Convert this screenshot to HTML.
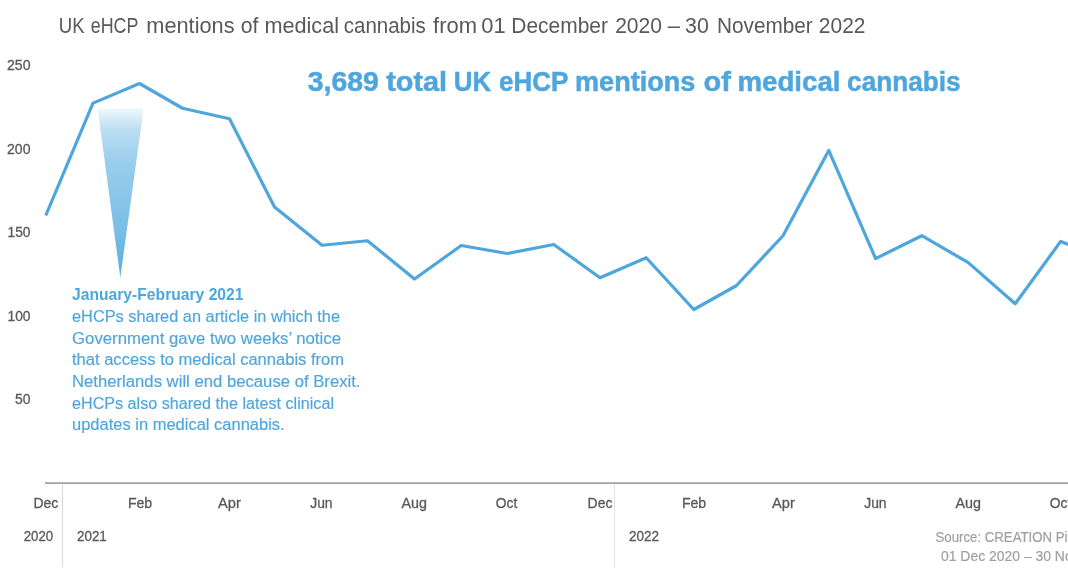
<!DOCTYPE html>
<html><head><meta charset="utf-8">
<style>
html,body{margin:0;padding:0;background:#fff;width:1068px;height:580px;overflow:hidden}
svg{display:block;will-change:transform}
text{font-family:"Liberation Sans",sans-serif}
.ax{fill:#595959;font-size:14.5px;stroke:#595959;stroke-width:0.3px}
.tt text{fill:#595959}
.hd text{fill:#4ea6dc;stroke:#4ea6dc;stroke-width:0.5px}
.cl{fill:#4ea6dc;font-size:15.6px;stroke:#4ea6dc;stroke-width:0.15px}
</style></head>
<body>
<svg width="1068" height="580" viewBox="0 0 1068 580">
<defs>
<linearGradient id="tg" x1="0" y1="0" x2="0" y2="1">
<stop offset="0" stop-color="#5aaee0" stop-opacity="0.1"/>
<stop offset="0.04" stop-color="#5aaee0" stop-opacity="0.2"/>
<stop offset="0.12" stop-color="#5aaee0" stop-opacity="0.4"/>
<stop offset="0.3" stop-color="#5aaee0" stop-opacity="0.6"/>
<stop offset="0.7" stop-color="#5aaee0" stop-opacity="0.8"/>
<stop offset="1" stop-color="#5aaee0" stop-opacity="1"/>
</linearGradient>
</defs>
<rect width="1068" height="580" fill="#fff"/>

<g class="tt">
<text x="58.76" y="33.00" font-size="21.50" textLength="25.84" lengthAdjust="spacingAndGlyphs">UK</text>
<text x="90.74" y="33.00" font-size="21.50" textLength="47.60" lengthAdjust="spacingAndGlyphs">eHCP</text>
<text x="146.25" y="33.00" font-size="21.50" textLength="88.33" lengthAdjust="spacingAndGlyphs">mentions</text>
<text x="240.71" y="33.00" font-size="21.50" textLength="17.66" lengthAdjust="spacingAndGlyphs">of</text>
<text x="264.46" y="33.00" font-size="21.50" textLength="74.59" lengthAdjust="spacingAndGlyphs">medical</text>
<text x="343.73" y="33.00" font-size="21.50" textLength="82.11" lengthAdjust="spacingAndGlyphs">cannabis</text>
<text x="433.09" y="33.00" font-size="21.50" textLength="43.96" lengthAdjust="spacingAndGlyphs">from</text>
<text x="481.24" y="33.00" font-size="21.50" textLength="24.43" lengthAdjust="spacingAndGlyphs">01</text>
<text x="511.28" y="33.00" font-size="21.50" textLength="96.67" lengthAdjust="spacingAndGlyphs">December</text>
<text x="615.14" y="33.00" font-size="21.50" textLength="46.88" lengthAdjust="spacingAndGlyphs">2020</text>
<text x="667.70" y="33.00" font-size="21.50" textLength="12.21" lengthAdjust="spacingAndGlyphs">–</text>
<text x="685.09" y="33.00" font-size="21.50" textLength="23.75" lengthAdjust="spacingAndGlyphs">30</text>
<text x="717.00" y="33.00" font-size="21.50" textLength="95.75" lengthAdjust="spacingAndGlyphs">November</text>
<text x="818.85" y="33.00" font-size="21.50" textLength="46.61" lengthAdjust="spacingAndGlyphs">2022</text>
</g>
<g class="hd">
<text x="307.75" y="91.20" font-size="27.60" font-weight="bold" textLength="71.00" lengthAdjust="spacingAndGlyphs">3,689</text>
<text x="386.15" y="91.20" font-size="27.60" font-weight="bold" textLength="61.00" lengthAdjust="spacingAndGlyphs">total</text>
<text x="453.85" y="91.20" font-size="27.60" font-weight="bold" textLength="37.40" lengthAdjust="spacingAndGlyphs">UK</text>
<text x="498.99" y="91.20" font-size="27.60" font-weight="bold" textLength="69.30" lengthAdjust="spacingAndGlyphs">eHCP</text>
<text x="575.01" y="91.20" font-size="27.60" font-weight="bold" textLength="120.40" lengthAdjust="spacingAndGlyphs">mentions</text>
<text x="703.47" y="91.20" font-size="27.60" font-weight="bold" textLength="27.38" lengthAdjust="spacingAndGlyphs">of</text>
<text x="737.48" y="91.20" font-size="27.60" font-weight="bold" textLength="102.98" lengthAdjust="spacingAndGlyphs">medical</text>
<text x="847.08" y="91.20" font-size="27.60" font-weight="bold" textLength="113.50" lengthAdjust="spacingAndGlyphs">cannabis</text>
</g>


<!-- y axis labels -->
<text class="ax" x="7" y="69.8" font-size="14.8" textLength="23.5" lengthAdjust="spacingAndGlyphs">250</text>
<text class="ax" x="7" y="153.5" font-size="14.8" textLength="23.5" lengthAdjust="spacingAndGlyphs">200</text>
<text class="ax" x="7.5" y="236.8" font-size="14.8" textLength="23" lengthAdjust="spacingAndGlyphs">150</text>
<text class="ax" x="7.5" y="320.5" font-size="14.8" textLength="23" lengthAdjust="spacingAndGlyphs">100</text>
<text class="ax" x="15" y="404" font-size="14.8" textLength="15.5" lengthAdjust="spacingAndGlyphs">50</text>

<!-- triangle callout -->
<polygon points="97.7,108.7 143.6,108.7 120.3,277.4" fill="url(#tg)"/>

<!-- data line -->
<polyline fill="none" stroke="#4ea6dc" stroke-width="3.2" stroke-linejoin="round" points="45.75,215.5 93,103.1 139.5,83.5 182.5,108.25 229.5,118.75 274.5,207 322,245.25 367.5,240.75 414.5,279 461.25,245.5 507.25,253.5 553.75,244.5 600,277.7 646.25,257.75 693.75,309.5 736.25,285.75 783,235.75 828.75,150.4 875.6,258.6 921.8,235.7 968.3,262.6 1015.2,303.8 1060.7,241.4 1107,260"/>

<!-- callout text -->
<text x="72" y="300.3" fill="#4ea6dc" font-size="16.1" font-weight="bold" textLength="171.5" lengthAdjust="spacingAndGlyphs">January-February 2021</text>
<text class="cl" x="72" y="321.8" textLength="268" lengthAdjust="spacingAndGlyphs">eHCPs shared an article in which the</text>
<text class="cl" x="72" y="343.5" textLength="269" lengthAdjust="spacingAndGlyphs">Government gave two weeks’ notice</text>
<text class="cl" x="72" y="365.2" textLength="272" lengthAdjust="spacingAndGlyphs">that access to medical cannabis from</text>
<text class="cl" x="72" y="386.9" textLength="288.5" lengthAdjust="spacingAndGlyphs">Netherlands will end because of Brexit.</text>
<text class="cl" x="72" y="408.6" textLength="262" lengthAdjust="spacingAndGlyphs">eHCPs also shared the latest clinical</text>
<text class="cl" x="72" y="430.3" textLength="212.7" lengthAdjust="spacingAndGlyphs">updates in medical cannabis.</text>

<!-- axis -->
<rect x="45" y="482.25" width="1023" height="1.75" fill="#a3a3a3"/>
<rect x="62" y="484" width="1" height="83" fill="#d9d9d9"/>
<rect x="614" y="484" width="1" height="83" fill="#dde2e8"/>

<!-- month labels -->
<text class="ax" x="45.9" y="508" text-anchor="middle" textLength="24.76" lengthAdjust="spacingAndGlyphs">Dec</text>
<text class="ax" x="140" y="508" text-anchor="middle" textLength="24.25" lengthAdjust="spacingAndGlyphs">Feb</text>
<text class="ax" x="229.5" y="508" text-anchor="middle" textLength="22.77" lengthAdjust="spacingAndGlyphs">Apr</text>
<text class="ax" x="321.4" y="508" text-anchor="middle" textLength="22.37" lengthAdjust="spacingAndGlyphs">Jun</text>
<text class="ax" x="414.25" y="508" text-anchor="middle" textLength="25.45" lengthAdjust="spacingAndGlyphs">Aug</text>
<text class="ax" x="506.6" y="508" text-anchor="middle" textLength="21.51" lengthAdjust="spacingAndGlyphs">Oct</text>
<text class="ax" x="600" y="508" text-anchor="middle" textLength="24.76" lengthAdjust="spacingAndGlyphs">Dec</text>
<text class="ax" x="694" y="508" text-anchor="middle" textLength="24.25" lengthAdjust="spacingAndGlyphs">Feb</text>
<text class="ax" x="783.5" y="508" text-anchor="middle" textLength="22.77" lengthAdjust="spacingAndGlyphs">Apr</text>
<text class="ax" x="875.4" y="508" text-anchor="middle" textLength="22.37" lengthAdjust="spacingAndGlyphs">Jun</text>
<text class="ax" x="968.25" y="508" text-anchor="middle" textLength="25.45" lengthAdjust="spacingAndGlyphs">Aug</text>
<text class="ax" x="1060.5" y="508" text-anchor="middle" textLength="21.51" lengthAdjust="spacingAndGlyphs">Oct</text>

<!-- years -->
<text class="ax" x="23.75" y="541.25" textLength="29.4" lengthAdjust="spacingAndGlyphs">2020</text>
<text class="ax" x="77" y="541.25" textLength="29.8" lengthAdjust="spacingAndGlyphs">2021</text>
<text class="ax" x="629" y="541.25" textLength="30.1" lengthAdjust="spacingAndGlyphs">2022</text>

<!-- source -->
<text x="935.5" y="542" fill="#a0a0a0" stroke="#a0a0a0" stroke-width="0.2" font-size="15" textLength="168" lengthAdjust="spacingAndGlyphs">Source: CREATION Pinpoint</text>
<text x="941" y="561" fill="#a0a0a0" stroke="#a0a0a0" stroke-width="0.2" font-size="15" textLength="213" lengthAdjust="spacingAndGlyphs">01 Dec 2020 – 30 November 2022</text>
</svg>
</body></html>
